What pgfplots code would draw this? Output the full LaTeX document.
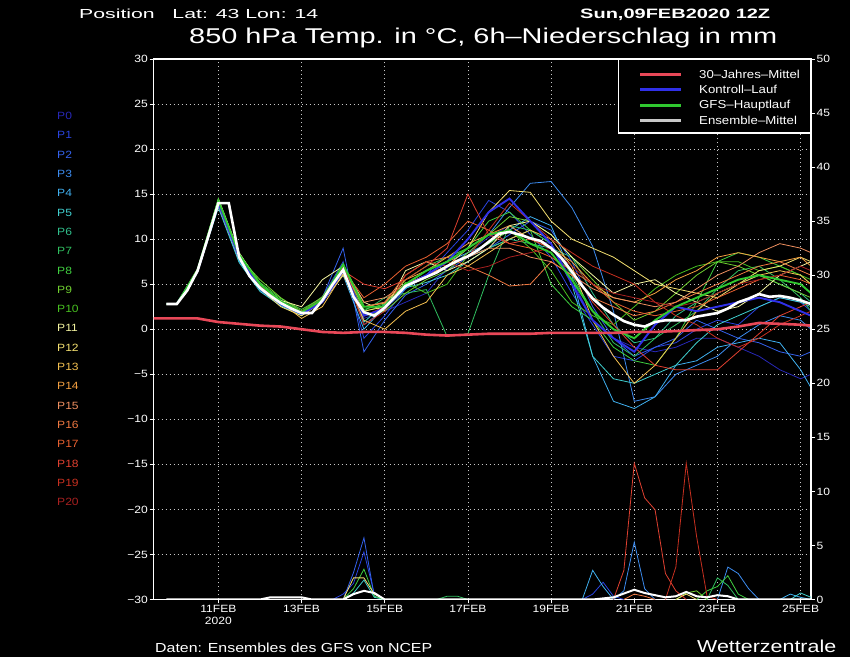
\documentclass[border=0pt]{standalone}
\usepackage{fontspec}
\setmainfont{Liberation Sans}
\newfontfamily\gfont[FakeStretch=1.15]{Liberation Sans}
\usepackage{graphicx}
\usepackage{pgfplots}
\usepackage{pgfplotstable}
\pgfplotsset{compat=1.18}

% member colours P0 ... P20
\definecolor{c0}{HTML}{2828B8}
\definecolor{c1}{HTML}{2A44E0}
\definecolor{c2}{HTML}{3462EE}
\definecolor{c3}{HTML}{3C8CF0}
\definecolor{c4}{HTML}{40B0F0}
\definecolor{c5}{HTML}{40D0D0}
\definecolor{c6}{HTML}{30C08C}
\definecolor{c7}{HTML}{30C060}
\definecolor{c8}{HTML}{40D040}
\definecolor{c9}{HTML}{70D030}
\definecolor{c10}{HTML}{48C020}
\definecolor{c11}{HTML}{F4F4A0}
\definecolor{c12}{HTML}{F4E070}
\definecolor{c13}{HTML}{F4C050}
\definecolor{c14}{HTML}{F4A040}
\definecolor{c15}{HTML}{F09060}
\definecolor{c16}{HTML}{F07840}
\definecolor{c17}{HTML}{E86030}
\definecolor{c18}{HTML}{E04030}
\definecolor{c19}{HTML}{C83020}
\definecolor{c20}{HTML}{A82020}
\definecolor{ctlblue}{HTML}{3030E8}
\definecolor{gfsgreen}{HTML}{30C830}
\definecolor{climred}{HTML}{E84858}
\definecolor{meangray}{HTML}{C8C8C8}
\definecolor{gridgray}{HTML}{C8C8C8}

% 850 hPa temperature, one row per run, 12-hourly from 09FEB 18Z (t in days from 11FEB 00Z)
\pgfplotstableread[header=false]{
t   -1.25 -1 -0.5 0 0.5 1 1.5 2 2.5 3 3.5 4 4.5 5 5.5 6 6.5 7 7.5 8 8.5 9 9.5 10 10.5 11 11.5 12 12.5 13 13.5 14 14.25
p0  2.8 2.8 6.3 13.6 7.5 4.3 2.6 1.6 3.0 6.2 1.2 2.0 3.0 4.0 6.8 8.5 10.2 11.5 10.0 9.5 5.5 1.0 -1.0 -2.0 -2.5 -2.0 -1.0 -1.0 -2.0 -3.0 -4.5 -5.5 -5.0
p1  2.8 2.8 6.6 14.2 8.2 4.8 3.0 1.9 3.6 7.5 -1.0 1.5 4.5 6.0 8.5 11.0 14.3 13.0 10.5 8.0 4.0 0.5 -3.0 -3.5 -2.0 -1.5 0.0 1.0 0.5 2.5 3.5 3.0 2.0
p2  2.8 2.8 6.4 14.0 8.0 4.9 3.0 1.7 3.5 9.0 -2.5 1.0 3.8 5.0 6.5 8.0 9.0 10.5 12.0 11.0 7.5 2.5 -1.0 -3.0 -2.0 -1.0 1.0 0.0 -1.0 -1.5 -2.5 -3.0 -2.5
p3  2.8 2.8 6.5 14.1 7.8 4.5 2.8 1.8 3.2 6.8 0.5 2.2 4.5 6.0 7.5 9.0 10.5 13.5 16.2 16.4 13.5 9.2 2.0 -8.0 -7.5 -5.0 -4.0 -3.0 -1.0 0.5 1.5 1.0 0.0
p4  2.8 2.8 6.3 13.8 7.6 4.4 2.7 1.6 3.0 6.0 0.0 2.5 5.0 6.5 7.5 8.5 9.5 11.0 12.5 11.5 6.0 -3.0 -8.0 -8.8 -7.5 -4.0 -3.5 -2.0 -1.5 -1.0 -1.5 -4.5 -6.5
p5  2.8 2.8 6.4 13.5 7.4 4.2 2.6 1.5 3.4 7.2 0.8 2.8 4.6 5.2 6.0 7.5 9.0 10.0 11.0 9.5 5.0 -3.0 -5.5 -6.0 -5.0 -4.0 -1.5 0.5 1.5 2.5 3.5 3.0 2.5
p6  2.8 2.8 6.6 14.3 8.3 5.0 3.2 2.0 3.0 6.4 2.5 3.0 5.0 6.0 7.0 8.0 9.0 10.0 9.5 9.0 8.0 4.0 0.5 -1.5 -1.0 1.5 3.0 4.0 5.0 6.0 5.0 4.0 3.0
p7  2.8 2.8 6.5 14.0 8.1 4.6 2.9 1.8 3.3 6.6 2.0 3.5 4.0 4.4 -0.8 -0.5 6.0 11.5 11.0 9.5 6.0 2.0 -1.5 -3.0 -1.0 0.5 2.0 4.5 6.5 7.0 5.5 3.5 2.0
p8  2.8 2.8 6.7 14.4 8.4 5.2 3.4 2.2 3.5 7.0 2.2 2.8 5.5 7.0 8.0 9.0 12.0 13.0 11.0 5.0 2.5 1.0 -2.0 -3.5 -4.0 -1.0 3.0 7.5 8.5 8.0 7.0 6.0 5.0
p9  2.8 2.8 6.5 13.9 8.0 5.5 3.5 2.0 3.6 7.0 1.5 2.0 4.0 5.5 6.5 8.5 10.5 12.5 12.0 10.5 8.0 5.5 3.0 1.0 2.0 4.0 6.0 7.5 7.0 6.0 5.0 4.0 3.5
p10 2.8 2.8 6.4 14.2 8.2 4.8 2.9 1.7 3.1 6.5 2.0 2.6 5.2 4.0 5.0 8.2 9.5 11.0 9.0 6.5 3.0 1.5 0.5 2.5 4.5 6.0 7.0 7.5 7.5 6.5 7.0 6.0 5.5
p11 2.8 2.8 6.6 14.5 8.5 5.0 3.2 2.5 5.5 7.0 3.0 2.0 6.5 7.5 6.5 7.5 9.0 11.5 12.0 10.5 8.0 6.0 4.0 5.0 5.5 4.0 3.0 2.0 2.5 4.0 6.0 7.0 7.5
p12 2.8 2.8 6.5 14.0 8.0 4.5 2.5 1.5 3.0 6.0 2.0 2.5 5.0 6.0 7.0 9.0 13.0 15.4 15.2 12.0 10.0 9.0 8.0 6.5 5.0 4.5 4.0 3.5 5.0 6.5 7.0 8.0 7.5
p13 2.8 2.8 6.3 13.8 7.8 4.8 3.0 1.2 2.5 6.2 1.0 0.0 2.0 3.0 6.0 7.0 8.5 10.0 11.0 10.0 7.0 1.0 -3.0 -6.0 -4.0 -1.0 2.0 4.0 5.0 6.0 6.5 6.0 5.0
p14 2.8 2.8 6.6 14.3 8.3 4.9 3.0 1.8 3.0 6.5 2.5 2.9 5.5 6.5 8.0 9.5 10.5 11.5 10.0 9.0 7.5 5.0 3.5 3.0 4.0 5.5 6.5 8.0 8.5 8.0 7.5 8.0 7.0
p15 2.8 2.8 6.4 14.0 8.0 4.6 2.8 1.7 3.2 6.7 3.0 3.5 5.0 6.0 7.0 8.0 9.0 9.0 8.0 7.5 6.0 4.5 3.5 3.0 2.5 3.0 4.5 6.0 7.0 8.5 9.5 9.0 8.5
p16 2.8 2.8 6.7 14.2 8.2 4.7 2.8 1.8 3.0 6.6 2.5 3.0 6.0 7.5 8.0 7.0 6.0 4.8 5.0 7.5 6.0 3.5 2.5 1.5 2.0 3.0 4.0 5.0 6.0 7.0 7.5 6.5 6.0
p17 2.8 2.8 6.5 14.1 8.1 4.8 3.0 1.9 3.2 6.6 3.5 5.0 7.0 8.0 9.5 12.0 11.0 9.5 9.0 8.0 6.5 5.0 3.0 2.0 1.5 2.0 2.5 3.5 4.5 5.5 6.0 5.5 5.0
p18 2.8 2.8 6.5 14.0 8.0 4.6 2.9 1.8 3.0 6.5 5.0 4.5 5.5 7.0 9.0 15.0 10.5 9.5 10.0 9.0 6.5 3.0 0.5 -2.0 -4.0 -4.5 -4.5 -4.5 -2.5 -0.5 1.5 2.5 3.0
p19 2.8 2.8 6.4 13.9 8.0 4.7 2.9 1.8 3.1 6.7 0.5 2.0 6.0 7.5 7.0 8.0 11.0 14.0 12.0 10.0 8.5 7.0 6.0 5.0 3.0 1.5 0.5 -1.0 -2.0 -1.0 0.5 1.5 2.0
p20 2.8 2.8 6.6 14.2 8.2 4.9 3.1 2.0 3.4 6.9 1.5 2.5 5.0 6.5 7.5 6.5 7.0 8.0 8.5 9.0 7.0 5.0 4.0 3.5 3.0 2.5 3.0 4.0 5.0 5.5 6.0 7.0 6.5
ctl 2.8 2.8 6.5 14.0 8.0 4.6 2.8 1.7 3.0 6.5 1.5 2.3 4.8 6.0 7.5 10.0 13.0 14.5 12.0 9.5 5.0 1.0 -1.0 -2.5 0.5 2.5 2.0 2.5 3.0 3.5 3.0 2.0 1.5
gfs 2.8 2.8 6.6 14.3 8.3 5.0 3.1 1.9 3.3 7.2 2.5 2.5 5.0 6.5 7.5 9.0 10.5 11.0 9.5 8.5 5.5 2.0 0.0 -1.0 1.0 2.5 3.5 4.5 5.5 6.0 5.5 5.0 4.0
}\ensraw
\pgfplotstabletranspose[colnames from=0]\ens{\ensraw}

\pgfplotsset{
  gframe/.style={
    at={(153.5bp,57.5bp)}, anchor=south west,
    scale only axis, width=657.5bp, height=540.5bp,
    xmin=-1.56, xmax=14.25, no markers,
    axis line style={white, line width=1.6bp},
    tick align=outside, major tick length=4bp,
    tick style={white, line width=0.8bp},
    yticklabel style={font=\gfont\fontsize{10.5bp}{12bp}\selectfont, text=white, inner sep=1.5bp},
  },
  thinrun/.style={line width=0.8bp},
}

\begin{document}
\begin{tikzpicture}
\begin{scope}[x=1bp,y=1bp]
\fill[black] (0,0) rectangle (850,657);
\useasboundingbox (0,0) rectangle (850,657);
\end{scope}

% temperature axis
\begin{axis}[gframe,
  ymin=-30, ymax=30,
  xtick={0,2,...,14},
  xticklabels={{11FEB\\2020},13FEB,15FEB,17FEB,19FEB,21FEB,23FEB,25FEB},
  xticklabel style={align=center, font=\gfont\fontsize{10.5bp}{12.5bp}\selectfont, text=white, inner sep=1.5bp},
  ytick={-30,-25,...,30},
  yticklabels={−30,−25,−20,−15,−10,−5,0,5,10,15,20,25,30},
  xtick pos=bottom, ytick pos=left,
  grid=major,
  major grid style={gridgray, line width=0.7bp, dash pattern=on 1.5bp off 2.5bp},
]
\pgfplotsinvokeforeach{0,...,20}{
  \addplot[draw=c#1, thinrun] table[x=t, y=p#1] {\ens};
}
\addplot[draw=ctlblue, line width=1.9bp] table[x=t, y=ctl] {\ens};
\addplot[draw=gfsgreen, line width=1.9bp] table[x=t, y=gfs] {\ens};
% 30-year climatology
\addplot[draw=climred, line width=2.6bp] coordinates {
(-1.56,1.2)(-0.5,1.2)(0,0.8)(0.5,0.6)(1,0.4)(1.5,0.3)(2,0.0)(2.5,-0.3)(3,-0.4)(3.5,-0.3)
(4,-0.3)(4.5,-0.4)(5,-0.6)(5.5,-0.7)(6,-0.6)(6.5,-0.5)(7,-0.5)(7.5,-0.5)(8,-0.4)(8.5,-0.4)
(9,-0.4)(9.5,-0.4)(10,-0.3)(10.5,-0.3)(11,-0.2)(11.5,-0.1)(12,0.0)(12.5,0.3)(13,0.7)(13.5,0.6)
(14,0.5)(14.25,0.4)};
% ensemble mean, 6-hourly
\addplot[draw=white, line width=2.6bp] coordinates {
(-1.25,2.8)(-1,2.8)(-0.75,4.3)(-0.5,6.5)(-0.25,10.2)(0,14.0)(0.25,14.0)(0.5,8.0)(0.75,5.9)(1,4.6)
(1.25,3.7)(1.5,2.9)(1.75,2.3)(2,1.8)(2.25,1.8)(2.5,3.2)(2.75,5.0)(3,6.6)(3.25,3.6)(3.5,1.9)
(3.75,1.5)(4,2.4)(4.25,3.6)(4.5,4.8)(4.75,5.3)(5,5.8)(5.25,6.3)(5.5,7.0)(5.75,7.6)(6,8.1)
(6.25,8.8)(6.5,9.7)(6.75,10.6)(7,10.8)(7.25,10.5)(7.5,10.1)(7.75,9.8)(8,9.0)(8.25,7.9)(8.5,6.4)
(8.75,4.8)(9,3.4)(9.25,2.4)(9.5,1.6)(9.75,0.9)(10,0.5)(10.25,0.3)(10.5,0.8)(10.75,1.0)(11,1.0)
(11.25,1.0)(11.5,1.4)(11.75,1.6)(12,1.8)(12.25,2.3)(12.5,3.0)(12.75,3.4)(13,3.9)(13.25,3.6)(13.5,3.7)
(13.75,3.5)(14,3.2)(14.25,2.8)};
\end{axis}

% 6-hourly precipitation axis (mm)
\begin{axis}[gframe,
  ymin=0, ymax=50,
  axis x line=none, axis y line*=right,
  ytick={0,5,...,50},
  yticklabels={0,5,10,15,20,25,30,35,40,45,50},
]
\addplot[draw=c1, thinrun] coordinates {(2.75,0)(3,0.5)(3.25,1.5)(3.5,4.4)(3.75,0.5)(4,0)};
\addplot[draw=c1, thinrun] coordinates {(8.75,0)(9,0.5)(9.25,1.6)(9.5,0.3)(9.75,0)};
\addplot[draw=c2, thinrun] coordinates {(3,0)(3.25,2.5)(3.5,5.7)(3.75,0.3)(4,0)};
\addplot[draw=c3, thinrun] coordinates {(9.5,0)(9.75,0.8)(10,5.3)(10.25,1.0)(10.5,0)};
\addplot[draw=c3, thinrun] coordinates {(12,0)(12.25,3.0)(12.5,2.4)(12.75,1.0)(13,0)};
\addplot[draw=c4, thinrun] coordinates {(8.75,0)(9,2.7)(9.25,1.2)(9.5,0)};
\addplot[draw=c4, thinrun] coordinates {(13.5,0)(13.75,0.5)(14,0.2)(14.25,0)};
\addplot[draw=c5, thinrun] coordinates {(3,0)(3.25,0.6)(3.5,1.8)(3.75,0.2)(4,0)};
\addplot[draw=c5, thinrun] coordinates {(13.75,0)(14,0.6)(14.25,0.2)};
\addplot[draw=c7, thinrun] coordinates {(5.25,0)(5.5,0.3)(5.75,0.3)(6,0)};
\addplot[draw=c7, thinrun] coordinates {(11.75,0)(12,2.0)(12.25,1.3)(12.5,0)};
\addplot[draw=c8, thinrun] coordinates {(3,0)(3.25,1.0)(3.5,2.8)(3.75,0.3)(4,0)};
\addplot[draw=c8, thinrun] coordinates {(11.5,0)(11.75,0.8)(12,1.2)(12.25,2.2)(12.5,0.5)(12.75,0)};
\addplot[draw=c9, thinrun] coordinates {(11,0)(11.25,0.6)(11.5,0.8)(11.75,0)};
\addplot[draw=c12, thinrun] coordinates {(3,0)(3.25,2.0)(3.5,2.0)(3.75,0.5)(4,0)};
\addplot[draw=c12, thinrun] coordinates {(11,0)(11.25,0.5)(11.5,0)};
\addplot[draw=c16, thinrun] coordinates {(9.75,0)(10,0.5)(10.25,0.3)(10.5,0)};
\addplot[draw=c18, thinrun] coordinates {(9.5,0)(9.75,2.7)(10,12.6)(10.25,9.4)(10.5,8.3)(10.75,2.4)(11,0.8)(11.25,0)};
\addplot[draw=c19, thinrun] coordinates {(10.75,0)(11,3.0)(11.25,12.6)(11.5,5.8)(11.75,0.3)(12,0)};
% ensemble mean precipitation
\addplot[draw=white, line width=2bp] coordinates {
(-1.25,0)(1,0)(1.25,0.2)(2,0.2)(2.25,0)(3,0)(3.25,0.5)(3.5,0.8)(3.75,0.6)(4,0)
(9,0)(9.5,0.2)(10,0.9)(10.25,0.6)(10.5,0.4)(10.75,0.2)(11,0.3)(11.25,0.7)(11.5,0.3)(11.75,0.2)
(12,0.4)(12.25,0.3)(12.5,0)(14.25,0)};
\end{axis}

\begin{scope}[x=1bp,y=1bp]
% legend
\filldraw[fill=black, draw=white, line width=1.2bp] (618.5,524) rectangle (811,598);
\begin{scope}[every node/.style={anchor=west, inner sep=0, text=white,
    font=\gfont\fontsize{11.5bp}{13bp}\selectfont}]
\draw[climred, line width=2.6bp] (640,582.7) -- (681,582.7);
\node at (699,582.7) {30–Jahres–Mittel};
\draw[ctlblue, line width=2.6bp] (640,567.7) -- (681,567.7);
\node at (699,567.7) {Kontroll–Lauf};
\draw[gfsgreen, line width=2.6bp] (640,551.7) -- (681,551.7);
\node at (699,551.7) {GFS–Hauptlauf};
\draw[meangray, line width=2.6bp] (640,536.7) -- (681,536.7);
\node at (699,536.7) {Ensemble–Mittel};
\end{scope}

% member labels
\foreach \i in {0,...,20} {
  \node[anchor=mid west, inner sep=0, text=c\i, font=\gfont\fontsize{10.5bp}{12bp}\selectfont]
    at (57,{540-19.3*\i}) {P\i};
}

% header and footer texts
\node[anchor=base west, inner sep=0, text=white] at (79,638)
  {\resizebox{239bp}{9.5bp}{Position\ \ \ Lat: 43 Lon: 14}};
\node[anchor=base west, inner sep=0, text=white] at (580,638)
  {\resizebox{190bp}{9.5bp}{\bfseries Sun,09FEB2020 12Z}};
\node[anchor=base west, inner sep=0, text=white] at (189,613.5)
  {\resizebox{588bp}{15.5bp}{850 hPa Temp. in °C, 6h–Niederschlag in mm}};
\node[anchor=base west, inner sep=0, text=white] at (155,4.5)
  {\resizebox{277bp}{9.5bp}{Daten: Ensembles des GFS von NCEP}};
\node[anchor=base west, inner sep=0, text=white] at (697,4)
  {\resizebox{139bp}{12.5bp}{Wetterzentrale}};
\end{scope}
\end{tikzpicture}
\end{document}
